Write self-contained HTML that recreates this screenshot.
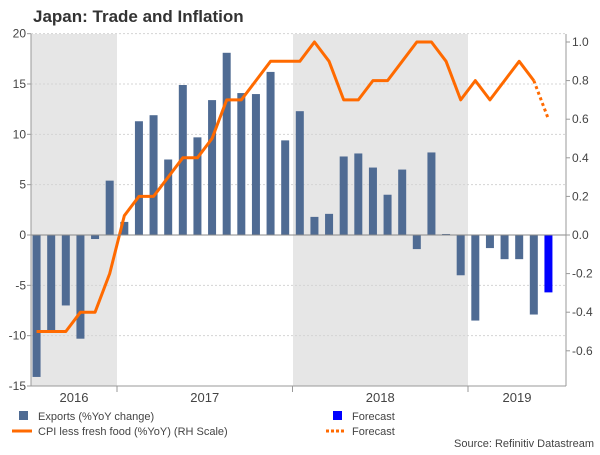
<!DOCTYPE html>
<html><head><meta charset="utf-8"><style>
body{margin:0;background:#fff;font-family:"Liberation Sans",sans-serif;}
svg text{font-family:"Liberation Sans",sans-serif;}
</style></head><body>
<svg id="chart" width="600" height="450" xmlns="http://www.w3.org/2000/svg">
<text x="33" y="22" font-size="17" font-weight="bold" fill="#333">Japan: Trade and Inflation</text>
<g id="shade"></g><g id="grid"></g><g id="bars"></g><g id="lines"></g><g id="axes"></g>
<g>
<rect x="19" y="411" width="9" height="9" fill="#4f6b93"/>
<text x="38" y="420" font-size="11" fill="#444">Exports (%YoY change)</text>
<line x1="12" y1="431" x2="32" y2="431" stroke="#ff6a00" stroke-width="3"/>
<text x="38" y="435" font-size="11" fill="#444">CPI less fresh food (%YoY) (RH Scale)</text>
<rect x="333" y="411" width="9" height="9" fill="#0000ff"/>
<text x="352" y="420" font-size="11" fill="#444">Forecast</text>
<line x1="326" y1="431" x2="346" y2="431" stroke="#ff6a00" stroke-width="3" stroke-dasharray="3,2"/>
<text x="352" y="435" font-size="11" fill="#444">Forecast</text>
</g>
<text x="594" y="447" font-size="11" fill="#444" text-anchor="end">Source: Refinitiv Datastream</text>
</svg>
<script>
const months = ["2016-07","2016-08","2016-09","2016-10","2016-11","2016-12","2017-01","2017-02","2017-03","2017-04","2017-05","2017-06","2017-07","2017-08","2017-09","2017-10","2017-11","2017-12","2018-01","2018-02","2018-03","2018-04","2018-05","2018-06","2018-07","2018-08","2018-09","2018-10","2018-11","2018-12","2019-01","2019-02","2019-03","2019-04","2019-05","2019-06"];
const exportsVals = [-14.1,-9.5,-7.0,-10.3,-0.4,5.4,1.3,11.3,11.9,7.5,14.9,9.7,13.4,18.1,14.1,14.0,16.2,9.4,12.3,1.8,2.1,7.8,8.1,6.7,4.0,6.5,-1.4,8.2,0.1,-4.0,-8.5,-1.3,-2.4,-2.4,-7.9,-5.7];
const exportsForecast = [false,false,false,false,false,false,false,false,false,false,false,false,false,false,false,false,false,false,false,false,false,false,false,false,false,false,false,false,false,false,false,false,false,false,false,true];
const cpiVals = [-0.5,-0.5,-0.5,-0.4,-0.4,-0.2,0.1,0.2,0.2,0.3,0.4,0.4,0.5,0.7,0.7,0.8,0.9,0.9,0.9,1.0,0.9,0.7,0.7,0.8,0.8,0.9,1.0,1.0,0.9,0.7,0.8,0.7,0.8,0.9,0.8];
const cpiForecast = [0.8,0.6];
const leftTicks = [20,15,10,5,0,-5,-10,-15];
const rightTicks = [1.0,0.8,0.6,0.4,0.2,0.0,-0.2,-0.4,-0.6];
const years = ["2016","2017","2018","2019"];

const NS="http://www.w3.org/2000/svg";
const L=31,R=566,T=34,B=386;
const mw=14.625, x0=117-12*mw;
function xm(i){const [y,m]=months[i].split("-").map(Number);return x0+((y-2016)*12+(m-1)+0.5)*mw;}
function yl(v){return 235-(v)*(B-235)/15;}
function yr(v){return 235-v*193;}
function mk(tag,attrs,parent){const e=document.createElementNS(NS,tag);for(const k in attrs)e.setAttribute(k,attrs[k]);document.getElementById(parent).appendChild(e);return e;}

let e;
e=mk("rect",{x:L,y:T,width:117-L,height:B-T,fill:"#e6e6e6"},"shade");


e=mk("rect",{x:293,y:T,width:468-293,height:B-T,fill:"#e6e6e6"},"shade");



leftTicks.forEach(v=>{
  const y=yl(v);
  if(v!==0&&v!==-15){e=mk("line",{x1:L,x2:R,y1:y,y2:y,stroke:"#d4d4d4","stroke-dasharray":"2,2"},"grid");
  
  }
  e=mk("text",{x:26,y:y+4,"font-size":12,fill:"#444","text-anchor":"end"},"axes");e.textContent=v;
  
  
  mk("line",{x1:L-4,x2:L,y1:y,y2:y,stroke:"#999"},"axes");
});
rightTicks.forEach(v=>{
  const y=yr(v);
  e=mk("text",{x:572,y:y+4,"font-size":12,fill:"#444"},"axes");e.textContent=v.toFixed(1);
  
  
  mk("line",{x1:R,x2:R+4,y1:y,y2:y,stroke:"#999"},"axes");
});

exportsVals.forEach((v,i)=>{
  const x=xm(i),y0=yl(0),y1=yl(v);
  e=mk("rect",{x:x-4,y:Math.min(y0,y1),width:8,height:Math.abs(y1-y0),fill:exportsForecast[i]?"#0000ff":"#4f6b93"},"bars");
  
  
});
mk("line",{x1:L,x2:R,y1:yl(0),y2:yl(0),stroke:"#888"},"axes");

const pts=cpiVals.map((v,i)=>xm(i)+","+yr(v)).join(" ");
e=mk("polyline",{points:pts,fill:"none",stroke:"#ff6a00","stroke-width":3,"stroke-linejoin":"round"},"lines");


const n=cpiVals.length-1;
e=mk("polyline",{points:cpiForecast.map((v,k)=>xm(n+k)+","+yr(v)).join(" "),fill:"none",stroke:"#ff6a00","stroke-width":3,"stroke-dasharray":"3,3"},"lines");



mk("line",{x1:L,x2:L,y1:T,y2:B,stroke:"#999"},"axes");
mk("line",{x1:R,x2:R,y1:T,y2:B,stroke:"#999"},"axes");
mk("line",{x1:L,x2:R,y1:B,y2:B,stroke:"#999"},"axes");
years.forEach((yv,k)=>{
  const xa=Math.max(L,x0+k*12*mw), xb=Math.min(R,x0+(k+1)*12*mw);
  mk("line",{x1:x0+k*12*mw+(k?0:12*mw),x2:x0+k*12*mw+(k?0:12*mw),y1:B,y2:B+6,stroke:"#999"},"axes");
  e=mk("text",{x:(xa+xb)/2,y:402,"font-size":13,fill:"#444","text-anchor":"middle"},"axes");e.textContent=yv;
  
  
});
</script>
</body></html>
